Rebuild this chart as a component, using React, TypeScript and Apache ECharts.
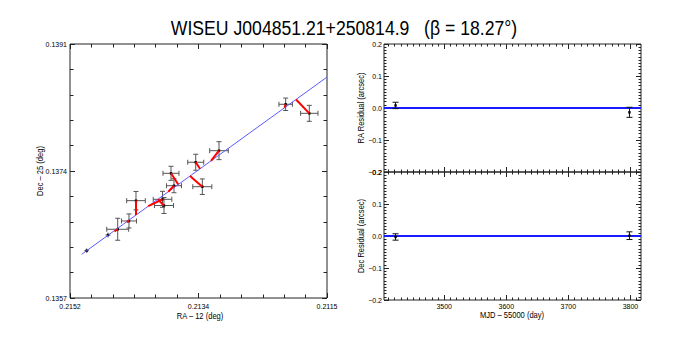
import React, { useEffect, useRef } from "react";
import * as echarts from "echarts";

// ---- Left panel: astrometry (RA - 12 deg, Dec - 25 deg) ----
const RA_OBS = [0.21496, 0.214653, 0.214513, 0.214351, 0.21425, 0.213868, 0.213847, 0.213746, 0.213703, 0.21339, 0.213295, 0.213055, 0.212095, 0.211755];
const DEC_OBS = [0.136333, 0.136543, 0.13662, 0.136731, 0.137003, 0.137021, 0.136938, 0.137369, 0.137203, 0.137517, 0.13719, 0.137672, 0.138293, 0.138172];
const RA_ERR = [0.000033, 0.000035, 0.000158, 0.000108, 0.000134, 0.000134, 0.000137, 0.000115, 0.000108, 0.000115, 0.000137, 0.000134, 0.000097, 0.000125];
const DEC_ERR = [0.00003, 0.000032, 0.000147, 0.000094, 0.000123, 0.000107, 0.000107, 0.000094, 0.000094, 0.000107, 0.000104, 0.00012, 0.000083, 0.000107];
const RA_FIT = [0.21496, 0.214653, 0.214559, 0.214384, 0.21425, 0.214073, 0.213937, 0.213641, 0.213785, 0.213328, 0.213472, 0.21317, 0.212112, 0.211946];
const DEC_FIT = [0.136333, 0.136543, 0.13659, 0.136717, 0.136811, 0.136929, 0.13702, 0.137219, 0.137123, 0.13743, 0.137332, 0.137535, 0.138246, 0.138357];
const FIT_LINE_RA = [0.215032, 0.2115];
const FIT_LINE_DEC = [0.136285, 0.138657];
const RA_RANGE = [0.2115, 0.2152];
const DEC_RANGE = [0.1357, 0.1391];
const LEFT_X_TICKS = ["0.2152", "0.2134", "0.2115"];
const LEFT_Y_TICKS = ["0.1357", "0.1374", "0.1391"];

// ---- Right panels: residuals ----
const MJD = [3421.6, 3798.4];
const RA_RES = [0.008, -0.0135];
const RA_RES_ERR = [0.01, 0.0157];
const DEC_RES = [-0.003, 0.001];
const DEC_RES_ERR = [0.01, 0.012];
const MJD_RANGE = [3403, 3817];
const MJD_MAJOR = [3500, 3600, 3700, 3800];
const MJD_MINOR = [3410, 3420, 3430, 3440, 3450, 3460, 3470, 3480, 3490, 3510, 3520, 3530, 3540, 3550, 3560, 3570, 3580, 3590, 3610, 3620, 3630, 3640, 3650, 3660, 3670, 3680, 3690, 3710, 3720, 3730, 3740, 3750, 3760, 3770, 3780, 3790, 3810];
const RES_RANGE = [-0.2, 0.2];

const FONT = '"Liberation Sans", Arial, Helvetica, sans-serif';
const NARROW = 0.84;

function errRender(color: string, cap: number) {
  return (_params: any, api: any) => {
    const x = api.value(0);
    const y = api.value(1);
    const ex = api.value(2);
    const ey = api.value(3);
    const c = api.coord([x, y]);
    const children: any[] = [];
    const st = { stroke: color, lineWidth: 1 };
    if (ex > 0) {
      const l = api.coord([x - ex, y]);
      const r = api.coord([x + ex, y]);
      children.push({ type: "line", shape: { x1: l[0], y1: c[1], x2: r[0], y2: c[1] }, style: st });
      if (Math.abs(r[0] - l[0]) > 8) {
        children.push({ type: "line", shape: { x1: l[0], y1: c[1] - cap, x2: l[0], y2: c[1] + cap }, style: st });
        children.push({ type: "line", shape: { x1: r[0], y1: c[1] - cap, x2: r[0], y2: c[1] + cap }, style: st });
      }
    }
    if (ey > 0) {
      const t = api.coord([x, y + ey]);
      const b = api.coord([x, y - ey]);
      children.push({ type: "line", shape: { x1: c[0], y1: t[1], x2: c[0], y2: b[1] }, style: st });
      if (Math.abs(b[1] - t[1]) > 5) {
        children.push({ type: "line", shape: { x1: c[0] - cap, y1: t[1], x2: c[0] + cap, y2: t[1] }, style: st });
        children.push({ type: "line", shape: { x1: c[0] - cap, y1: b[1], x2: c[0] + cap, y2: b[1] }, style: st });
      }
    }
    children.push({ type: "rect", shape: { x: c[0] - 1.2, y: c[1] - 1.2, width: 2.4, height: 2.4 }, style: { fill: "#000" } });
    return { type: "group", children };
  };
}

function redRender(_params: any, api: any) {
  const a = api.coord([api.value(0), api.value(1)]);
  const b = api.coord([api.value(2), api.value(3)]);
  return {
    type: "line",
    shape: { x1: a[0], y1: a[1], x2: b[0], y2: b[1] },
    style: { stroke: "#ff0000", lineWidth: 2 },
  };
}

const tickAxisBase = (extra: any) => ({
  axisLine: { show: false, onZero: false },
  splitLine: { show: false },
  ...extra,
  axisTick: { show: true, inside: true, length: 5, lineStyle: { color: "#222", width: 1 }, ...(extra.axisTick || {}) },
});

export default function App() {
  const ref = useRef<HTMLDivElement>(null);
  useEffect(() => {
    if (!ref.current) return;
    const chart = echarts.init(ref.current, undefined, { renderer: "svg" });

    const obsData = RA_OBS.map((r, i) => [r, DEC_OBS[i], RA_ERR[i], DEC_ERR[i]]);
    const redData = RA_OBS.map((r, i) => [r, DEC_OBS[i], RA_FIT[i], DEC_FIT[i]]).filter(
      (d) => d[0] !== d[2] || d[1] !== d[3]
    );
    const fitLine = FIT_LINE_RA.map((r, i) => [r, FIT_LINE_DEC[i]]);
    const raRes = MJD.map((m, i) => [m, RA_RES[i], 0, RA_RES_ERR[i]]);
    const decRes = MJD.map((m, i) => [m, DEC_RES[i], 0, DEC_RES_ERR[i]]);
    const zeroLine = MJD_RANGE.map((m) => [m, 0]);

    const lblStyle = { fontSize: 7, color: "#000", fontFamily: FONT };
    const leftXTick = (pos: string) =>
      tickAxisBase({
        type: "value", gridIndex: 0, position: pos, min: 0, max: 12, interval: 6,
        minorTick: { show: true, splitNumber: 6, length: 3.5, lineStyle: { color: "#222", width: 1 } },
        axisLabel: { show: false },
      });
    const leftYTick = (pos: string, labels: boolean) =>
      tickAxisBase({
        type: "value", gridIndex: 0, position: pos, min: 0, max: 10, interval: 5,
        minorTick: { show: true, splitNumber: 5, length: 3.5, lineStyle: { color: "#222", width: 1 } },
        axisLabel: labels
          ? {
              show: true, margin: 3, ...lblStyle, verticalAlignMinLabel: "middle", verticalAlignMaxLabel: "middle",
              formatter: (v: number) => LEFT_Y_TICKS[Math.round(v / 5)] ?? "",
            }
          : { show: false },
      });
    const mjdAxis = (grid: number, pos: string, labels: boolean, minor: boolean) =>
      tickAxisBase({
        type: "value", gridIndex: grid, position: pos, min: MJD_RANGE[0], max: MJD_RANGE[1],
        minorTick: { show: false },
        axisTick: { length: minor ? 2.5 : 5, customValues: minor ? MJD_MINOR : MJD_MAJOR },
        axisLabel: labels
          ? {
              show: true, margin: 3, ...lblStyle, customValues: MJD_MAJOR,
              formatter: (v: number) => String(Math.round(v)),
            }
          : { show: false },
      });
    const resAxis = (grid: number, pos: string, labels: boolean) =>
      tickAxisBase({
        type: "value", gridIndex: grid, position: pos, min: RES_RANGE[0], max: RES_RANGE[1], interval: 0.1,
        minorTick: { show: true, splitNumber: 10, length: 2.5, lineStyle: { color: "#222", width: 1 } },
        axisLabel: labels
          ? {
              show: true, margin: 2, ...lblStyle, showMinLabel: true, showMaxLabel: true,
              verticalAlignMinLabel: "middle", verticalAlignMaxLabel: "middle",
              formatter: (v: number) => {
                const s = (Math.round(v * 10) / 10).toFixed(1);
                return s === "-0.0" ? "0.0" : s.replace("-", "\u2212");
              },
            }
          : { show: false },
      });

    const txt = (text: string, x: number, y: number, size: number, sx: number, rot?: number) => ({
      type: "text", x, y, rotation: rot ?? 0, scaleX: sx, scaleY: 1,
      style: { text, font: `${size}px ${FONT}`, fill: "#000", align: "center", verticalAlign: "middle" },
    });

    // label-only grid for the left panel's x labels: one extra step on the left so that
    // the first label is not the axis minimum (keeps it centred under its tick)
    const step = 257 / 12;

    chart.setOption({
      animation: false,
      backgroundColor: "#fff",
      textStyle: { fontFamily: FONT },
      grid: [
        { left: 70, top: 44, width: 257, height: 254, show: true, borderColor: "#222", borderWidth: 1 },
        { left: 384, top: 44, width: 257, height: 128, show: true, borderColor: "#222", borderWidth: 1 },
        { left: 384, top: 172, width: 257, height: 128, show: true, borderColor: "#222", borderWidth: 1 },
        { left: 70 - step, top: 44, width: 257 + 2 * step, height: 254, show: false },
      ],
      xAxis: [
        { type: "value", gridIndex: 0, min: RA_RANGE[0], max: RA_RANGE[1], inverse: true, show: false, axisLine: { onZero: false } },
        leftXTick("bottom"),
        leftXTick("top"),
        mjdAxis(1, "bottom", false, false),
        mjdAxis(1, "top", false, false),
        mjdAxis(2, "bottom", true, false),
        mjdAxis(2, "top", false, false),
        mjdAxis(1, "bottom", false, true),
        mjdAxis(1, "top", false, true),
        mjdAxis(2, "bottom", false, true),
        mjdAxis(2, "top", false, true),
        {
          type: "value", gridIndex: 3, position: "bottom", min: -1, max: 13,
          axisLine: { show: false, onZero: false }, splitLine: { show: false },
          axisTick: { show: false }, minorTick: { show: false },
          axisLabel: {
            show: true, margin: 5, ...lblStyle, customValues: [0, 6, 12],
            formatter: (v: number) => LEFT_X_TICKS[Math.round(v / 6)] ?? "",
          },
        },
      ],
      yAxis: [
        { type: "value", gridIndex: 0, min: DEC_RANGE[0], max: DEC_RANGE[1], show: false, axisLine: { onZero: false } },
        leftYTick("left", true),
        leftYTick("right", false),
        resAxis(1, "left", true),
        resAxis(1, "right", false),
        resAxis(2, "left", true),
        resAxis(2, "right", false),
        { type: "value", gridIndex: 3, min: 0, max: 1, show: false, axisLine: { onZero: false } },
      ],
      series: [
        {
          type: "custom", xAxisIndex: 0, yAxisIndex: 0, z: 2, data: obsData,
          renderItem: errRender("#555", 2.5), encode: { x: 0, y: 1 },
        },
        {
          type: "line", xAxisIndex: 0, yAxisIndex: 0, z: 3, data: fitLine, symbol: "none",
          lineStyle: { color: "#5a5aff", width: 1 },
        },
        {
          type: "custom", xAxisIndex: 0, yAxisIndex: 0, z: 4, data: redData,
          renderItem: redRender, encode: { x: 0, y: 1 },
        },
        {
          type: "line", xAxisIndex: 3, yAxisIndex: 3, z: 2, data: zeroLine, symbol: "none",
          lineStyle: { color: "#1a1aff", width: 2 },
        },
        {
          type: "custom", xAxisIndex: 3, yAxisIndex: 3, z: 3, data: raRes,
          renderItem: errRender("#111", 3), encode: { x: 0, y: 1 },
        },
        {
          type: "line", xAxisIndex: 5, yAxisIndex: 5, z: 2, data: zeroLine, symbol: "none",
          lineStyle: { color: "#1a1aff", width: 2 },
        },
        {
          type: "custom", xAxisIndex: 5, yAxisIndex: 5, z: 3, data: decRes,
          renderItem: errRender("#111", 3), encode: { x: 0, y: 1 },
        },
      ],
      graphic: [
        txt("WISEU J004851.21+250814.9   (\u03b2 = 18.27\u00b0)", 344, 27.5, 21, NARROW),
        txt("RA \u2013 12 (deg)", 200, 315.5, 9, NARROW),
        txt("Dec \u2013 25 (deg)", 40, 171, 9, NARROW, Math.PI / 2),
        txt("MJD \u2013 55000 (day)", 512, 315, 9, NARROW),
        txt("RA Residual (arcsec)", 361, 108, 9, NARROW, Math.PI / 2),
        txt("Dec Residual (arcsec)", 361, 236, 9, NARROW, Math.PI / 2),
      ],
    });
    return () => chart.dispose();
  }, []);
  return <div ref={ref} style={{ position: "fixed", left: 0, top: 0, width: 680, height: 340 }} />;
}
